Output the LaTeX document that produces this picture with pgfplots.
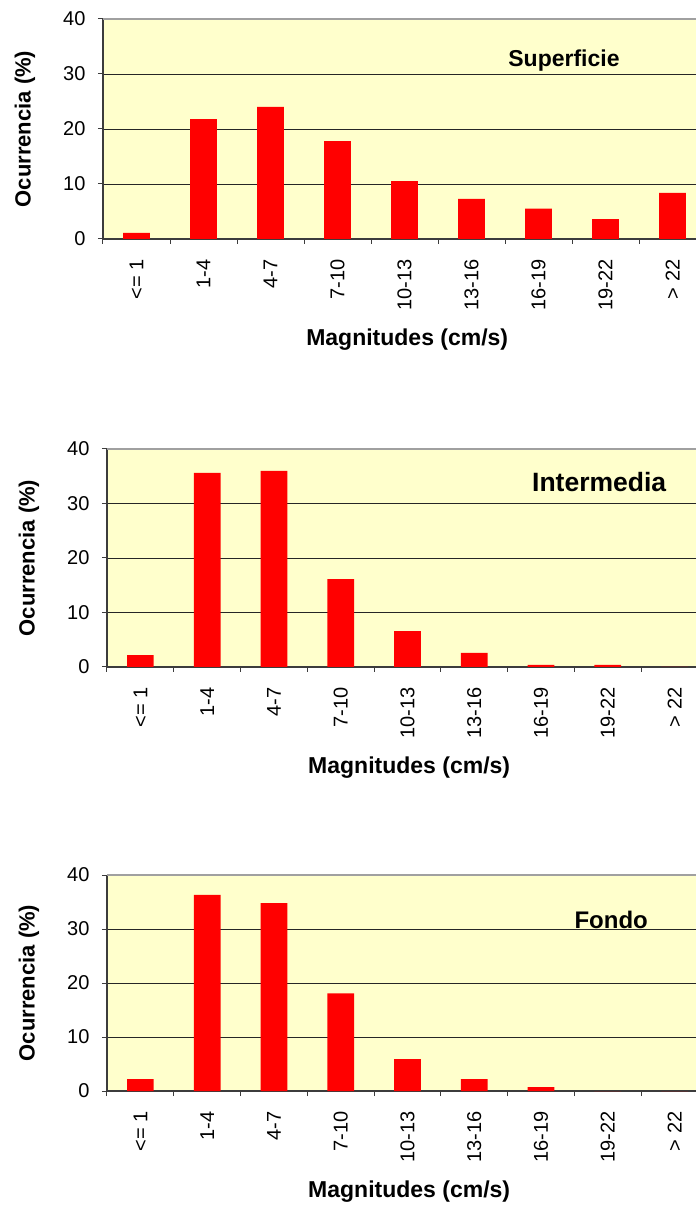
\documentclass[border=0pt]{standalone}
\usepackage{fontspec}
\setmainfont{Liberation Sans}
\usepackage{pgfplots}
\pgfplotsset{compat=1.18}
\usepackage{pgfplotstable}

\definecolor{bgyellow}{RGB}{255,255,204}
\definecolor{axisgray}{RGB}{60,60,60}
\definecolor{topgray}{RGB}{160,160,160}

% one table per depth level
\pgfplotstableread{
x y
0 1.1
1 21.8
2 24.0
3 17.8
4 10.5
5 7.3
6 5.5
7 3.6
8 8.4
}\superficie
\pgfplotstableread{
x y
0 2.2
1 35.6
2 36.0
3 16.1
4 6.6
5 2.6
6 0.4
7 0.4
8 0
}\intermedia
\pgfplotstableread{
x y
0 2.2
1 36.3
2 34.8
3 18.1
4 5.9
5 2.2
6 0.7
7 0
8 0
}\fondo

\pgfplotsset{
  velbars/.style={
    scale only axis,
    anchor=south west,
    ybar, bar width=0.4,
    ymin=0, ymax=40,
    xmin=-0.5,
    axis x line*=bottom, axis y line*=left,
    axis line style={axisgray, line width=1.1pt},
    axis background/.style={fill=bgyellow},
    tick align=outside,
    /pgf/number format/assume math mode=true,
    tick label style={font=\fontsize{20}{24}\selectfont},
    ytick={0,10,20,30},
    extra y ticks={40},
    extra y tick style={grid style={topgray, line width=1.2pt}},
    ymajorgrids,
    grid style={black!85, line width=0.8pt},
    major tick length=5pt,
    every tick/.style={axisgray, line width=1pt},
    y tick label style={xshift=-9pt},
    xtick={-0.5,0.5,...,7.5},
    xticklabels={},
    extra x ticks={0,...,8},
    extra x tick labels={{<= 1},1-4,4-7,7-10,10-13,13-16,16-19,19-22,{> 22}},
    extra x tick style={major tick length=0pt, grid=none,
      x tick label style={yshift=-17pt, rotate=90, anchor=east}},
    xlabel={Magnitudes (cm/s)},
    xlabel style={at={(axis description cs:0.513,0)}, anchor=center, yshift=-101pt,
      font=\bfseries\fontsize{23}{26}\selectfont},
    ylabel={Ocurrencia (\%)},
    ylabel style={anchor=center, font=\bfseries\fontsize{22}{26}\selectfont},
  },
  bars/.style={fill=red, draw=none},
}

\begin{document}
\begin{tikzpicture}
\path[use as bounding box] (0,0) rectangle (696pt,1205pt);

\begin{axis}[velbars, at={(103pt,966pt)}, width=593pt, height=220pt, xmax=8.35,
  ylabel style={at={(axis description cs:-0.1315,0.5)}}]
  \addplot[bars] table[x=x, y=y] {\superficie};
  \node[font=\bfseries\fontsize{23}{26}\selectfont] at (axis cs:6.38,32.4) {Superficie};
\end{axis}

\begin{axis}[velbars, at={(107pt,538pt)}, width=589pt, height=218pt, xmax=8.32,
  ylabel style={at={(axis description cs:-0.1324,0.5)}}]
  \addplot[bars] table[x=x, y=y] {\intermedia};
  \node[font=\bfseries\fontsize{26.5}{29}\selectfont] at (axis cs:6.87,33.9) {Intermedia};
\end{axis}

\begin{axis}[velbars, at={(107pt,114pt)}, width=589pt, height=216pt, xmax=8.32,
  ylabel style={at={(axis description cs:-0.1324,0.5)}}]
  \addplot[bars] table[x=x, y=y] {\fondo};
  \node[font=\bfseries\fontsize{24}{27}\selectfont] at (axis cs:7.05,31.7) {Fondo};
\end{axis}
\end{tikzpicture}
\end{document}
